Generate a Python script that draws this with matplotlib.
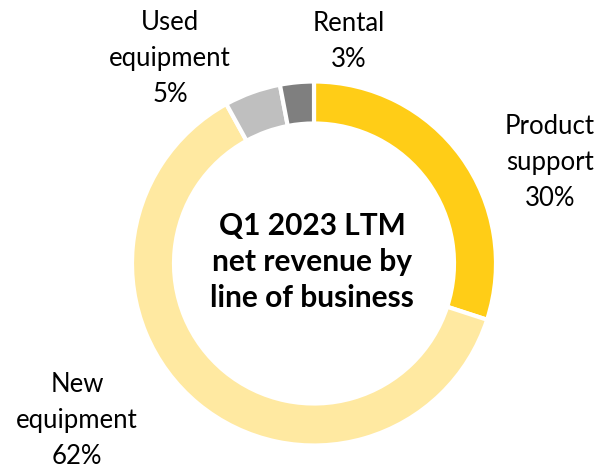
import matplotlib.pyplot as plt

# data
segments = ['Product support', 'New equipment', 'Used equipment', 'Rental']
shares = [30, 62, 5, 3]
colors = ['#FFCD17', '#FFE9A1', '#BFBFBF', '#7F7F7F']
labels = ['Product\nsupport\n30%', 'New\nequipment\n62%', 'Used\nequipment\n5%', 'Rental\n3%']
label_pos = [(550, 162), (77, 420), (170, 58), (349, 41)]  # pixel coords (y from top)
center_title = 'Q1 2023 LTM\nnet revenue by\nline of business'

plt.rcParams['font.family'] = ['Lato', 'DejaVu Sans']

W, H = 602, 469
fig = plt.figure(figsize=(W / 100, H / 100), dpi=100)
ax = fig.add_axes([0, 0, 1, 1])

cx, cy, r = 314, H - 263.5, 182
ax.pie(shares, colors=colors, startangle=90, counterclock=False,
       center=(cx, cy), radius=r, frame=True,
       wedgeprops=dict(width=42, edgecolor='white', linewidth=3))
ax.set_xlim(0, W)
ax.set_ylim(0, H)
ax.axis('off')

for txt, (x, y) in zip(labels, label_pos):
    ax.text(x, H - y, txt, ha='center', va='center', fontsize=18.5,
            linespacing=1.55, color='black')

ax.text(cx - 2, H - 262, center_title, ha='center', va='center',
        fontsize=21.5, fontweight='bold', linespacing=1.35)

fig.savefig('out.png', dpi=100)
